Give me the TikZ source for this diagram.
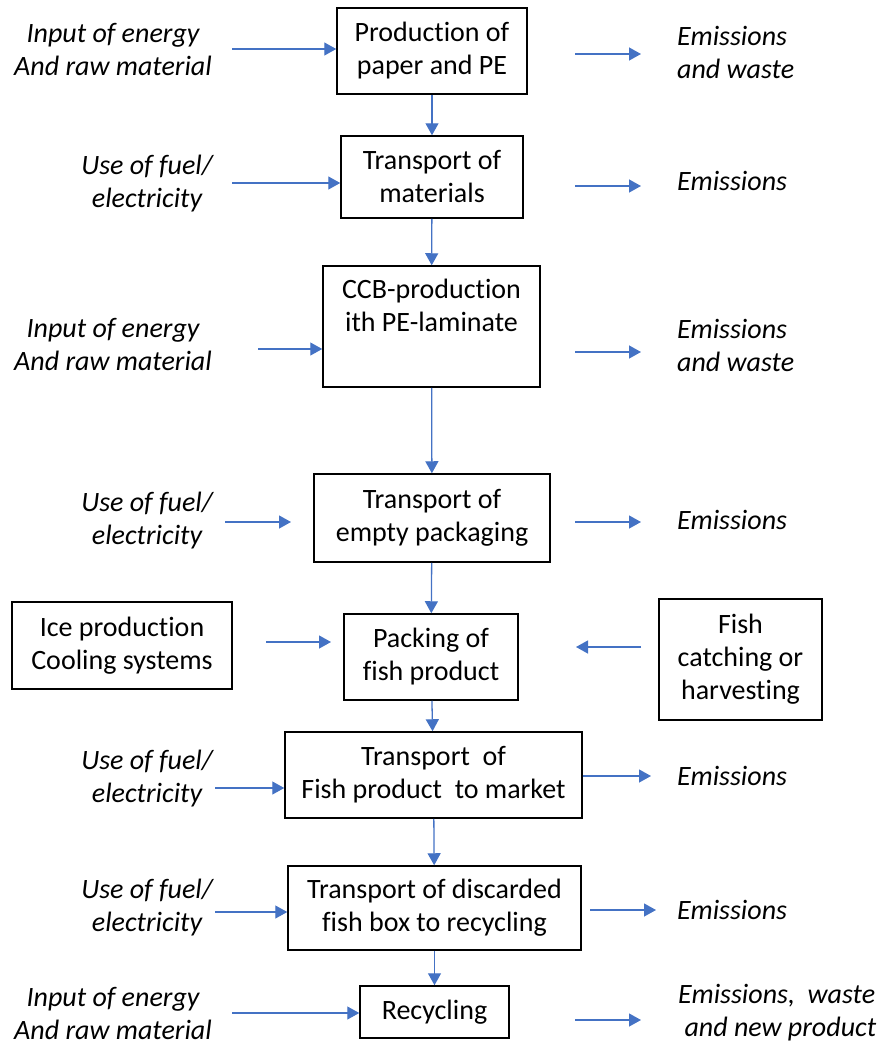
\documentclass[tikz,border=0pt]{standalone}
\usepackage{fontspec}
\setmainfont{Carlito}[Ligatures=NoCommon]
\usetikzlibrary{arrows.meta}
\definecolor{arrblue}{HTML}{4472C4}
\tikzset{
  box/.style={draw=black, line width=1.5pt, align=center, inner sep=0pt, font=\fontsize{28}{33}\selectfont},
  lbl/.style={align=center, inner sep=0pt, font=\fontsize{28}{33}\selectfont\itshape},
  lbll/.style={align=left, anchor=west, inner sep=0pt, font=\fontsize{28}{33}\selectfont\itshape},
  arr/.style={draw=arrblue, line width=1.3pt, -{Triangle[length=12pt,width=13pt]}},
}
\begin{document}
\begin{tikzpicture}[x=1pt,y=-1pt]
\useasboundingbox (0,0) rectangle (881,1044);
% boxes
\node[box, minimum width=190pt, minimum height=86pt] (prod) at (432,51) {Production of\\paper and PE};
\node[box, minimum width=182pt, minimum height=82pt] (tmat) at (432,177) {Transport of\\materials};
\node[box, minimum width=217pt, minimum height=121pt] (ccb) at (431.5,326.5) {CCB-production\\ith PE-laminate\\ \strut};
\node[box, minimum width=236pt, minimum height=88pt] (tep) at (432,518) {Transport of\\empty packaging};
\node[box, minimum width=174pt, minimum height=86pt] (pack) at (431,657) {Packing of\\fish product};
\node[box, minimum width=220pt, minimum height=87pt] (ice) at (122,645.5) {Ice production\\Cooling systems};
\node[box, minimum width=163pt, minimum height=121pt] (fish) at (740.5,659.5) {Fish\\catching or\\harvesting};
\node[box, minimum width=297pt, minimum height=86pt] (tfm) at (433.5,775) {Transport\ \ of\\Fish product\ \ to market};
\node[box, minimum width=293pt, minimum height=84pt] (tdis) at (434.5,908) {Transport of discarded\\fish box to recycling};
\node[box, minimum width=149pt, minimum height=52pt] (rec) at (434.5,1012) {Recycling};
% left labels
\node[lbl] (l1) at (113,50) {Input of energy\\And raw material};
\node[lbl] (l2) at (147,184) {Use of fuel/\\electricity};
\node[lbl] (l3) at (113,345) {Input of energy\\And raw material};
\node[lbl] (l4) at (147,521) {Use of fuel/\\electricity};
\node[lbl] (l5) at (147,779) {Use of fuel/\\electricity};
\node[lbl] (l6) at (147,908) {Use of fuel/\\electricity};
\node[lbl] (l7) at (113,1013) {Input of energy\\And raw material};
% right labels
\node[lbll] (r1) at (677,52) {Emissions\\and waste};
\node[lbll] (r2) at (677,181) {Emissions};
\node[lbll] (r3) at (677,345) {Emissions\\and waste};
\node[lbll] (r4) at (677,520) {Emissions};
\node[lbll] (r5) at (677,776) {Emissions};
\node[lbll] (r6) at (677,910) {Emissions};
\node[lbll] (r7) at (678,1013) {Emissions,\ \ waste\\\ and new product};
% vertical connectors
\draw[arr] (prod) -- (tmat);
\draw[arr] (tmat) -- (ccb);
\draw[arr] (ccb) -- (tep);
\draw[arr] (tep) -- (pack);
\draw[arr] (pack) -- (tfm);
\draw[arr] (tfm) -- (tdis);
\draw[arr] (tdis) -- (rec);
% input arrows
\coordinate (i1) at (232,49);
\draw[arr] (i1) -- (i1 -| prod.west);
\coordinate (i2) at (232,183);
\draw[arr] (i2) -- (i2 -| tmat.west);
\coordinate (i3) at (258,349);
\draw[arr] (i3) -- (i3 -| ccb.west);
\coordinate (i4) at (225,522);
\coordinate (i4e) at (291,522);
\draw[arr] (i4) -- (i4e);
\coordinate (i5) at (215,788);
\draw[arr] (i5) -- (i5 -| tfm.west);
\coordinate (i6) at (215,912);
\draw[arr] (i6) -- (i6 -| tdis.west);
\coordinate (i7) at (232,1013);
\draw[arr] (i7) -- (i7 -| rec.west);
\coordinate (ic) at (266,642);
\coordinate (ice2) at (331,642);
\draw[arr] (ic) -- (ice2);
\coordinate (fc) at (641,647);
\coordinate (fce) at (576,647);
\draw[arr] (fc) -- (fce);
% emission arrows
\coordinate (e1) at (575,54); \coordinate (e1e) at (641,54);
\draw[arr] (e1) -- (e1e);
\coordinate (e2) at (575,186); \coordinate (e2e) at (641,186);
\draw[arr] (e2) -- (e2e);
\coordinate (e3) at (575,352); \coordinate (e3e) at (641,352);
\draw[arr] (e3) -- (e3e);
\coordinate (e4) at (575,522); \coordinate (e4e) at (641,522);
\draw[arr] (e4) -- (e4e);
\coordinate (e5) at (tfm.east |- 0,776); \coordinate (e5e) at (651,776);
\draw[arr] (e5) -- (e5e);
\coordinate (e6) at (590,910); \coordinate (e6e) at (656,910);
\draw[arr] (e6) -- (e6e);
\coordinate (e7) at (575,1020); \coordinate (e7e) at (641,1020);
\draw[arr] (e7) -- (e7e);
\end{tikzpicture}
\end{document}
